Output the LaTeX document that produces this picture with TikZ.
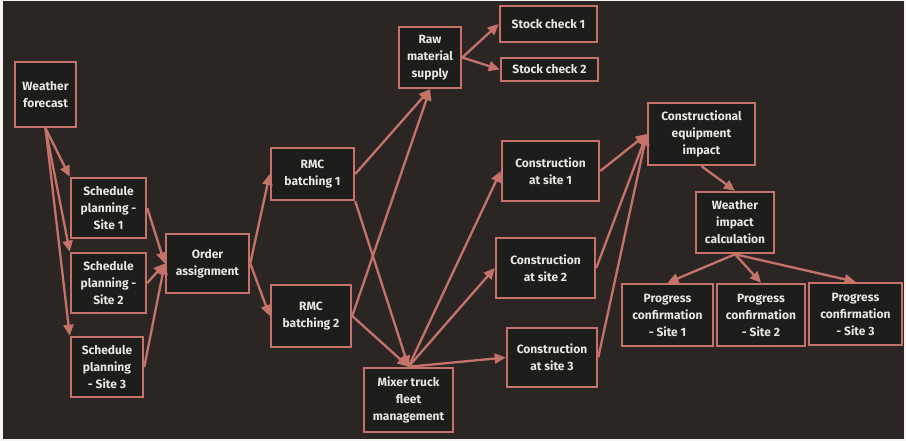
\documentclass[tikz,border=0pt]{standalone}
\usepackage{fontspec}
\setmainfont{Fira Sans}
\usetikzlibrary{arrows.meta}

\definecolor{pagedark}{RGB}{43,38,36}
\definecolor{boxdark}{RGB}{29,29,28}
\definecolor{salmon}{RGB}{197,114,106}
\definecolor{boxtext}{RGB}{232,230,224}

\tikzset{
	box/.style={draw=salmon, fill=boxdark, line width=2.5pt, text=boxtext,
		font=\bfseries\fontsize{12}{17}\selectfont, align=center, inner sep=1pt},
	flow/.style={draw=salmon, line width=2.3pt, -{Triangle[length=11pt,width=10pt]}}
}

\begin{document}
\begin{tikzpicture}[x=1pt,y=-1pt]
	\useasboundingbox (0,0) rectangle (906,441);
	\fill[white!92!gray] (0,0) rectangle (906,441);
	\fill[pagedark] (3,1) rectangle (904,439);
	% left part
	\node[box, minimum width=61, minimum height=65] (wf) at (45.5,94.5) {Weather\\forecast};
	\node[box, minimum width=75, minimum height=60] (sp1) at (108.5,208) {Schedule\\planning -\\Site 1};
	\node[box, minimum width=75, minimum height=60] (sp2) at (108.5,283) {Schedule\\planning -\\Site 2};
	\node[box, minimum width=72, minimum height=60] (sp3) at (107,367) {Schedule\\planning\\- Site 3};
	\node[box, minimum width=83, minimum height=59] (oa) at (207.5,263.5) {Order\\assignment};
	% batching and supply
	\node[box, minimum width=83, minimum height=52] (rmc1) at (312.5,174) {RMC\\batching 1};
	\node[box, minimum width=80, minimum height=62] (rmc2) at (311,316) {RMC\\batching 2};
	\node[box, minimum width=62, minimum height=61] (raw) at (430,57.5) {Raw\\material\\supply};
	\node[box, minimum width=97, minimum height=36] (sc1) at (548.5,24) {Stock check 1};
	\node[box, minimum width=97, minimum height=23] (sc2) at (549.5,69.5) {Stock check 2};
	\node[box, minimum width=89, minimum height=64] (mtf) at (408.5,400) {Mixer truck\\fleet\\management};
	% construction sites
	\node[box, minimum width=97, minimum height=60] (cs1) at (550.5,171) {Construction\\at site 1};
	\node[box, minimum width=99, minimum height=60] (cs2) at (545.5,268) {Construction\\at site 2};
	\node[box, minimum width=90, minimum height=59] (cs3) at (552,357.5) {Construction\\at site 3};
	% impact and progress
	\node[box, minimum width=107, minimum height=62] (cei) at (701.5,134) {Constructional\\equipment\\impact};
	\node[box, minimum width=78, minimum height=61] (wic) at (735,222.5) {Weather\\impact\\calculation};
	\node[box, minimum width=91, minimum height=62] (pc1) at (667.5,315) {Progress\\confirmation\\- Site 1};
	\node[box, minimum width=88, minimum height=62] (pc2) at (761,315) {Progress\\confirmation\\- Site 2};
	\node[box, minimum width=93, minimum height=62] (pc3) at (855.5,314) {Progress\\confirmation\\- Site 3};

	\draw[flow] (wf.south) -- (sp1.north west);
	\draw[flow] (wf.south) -- (sp2.north west);
	\draw[flow] (wf.south) -- (sp3.north west);
	\draw[flow] (sp1.east) -- (oa.west);
	\draw[flow] (sp2.east) -- (oa.west);
	\draw[flow] (sp3.east) -- (oa.west);
	\draw[flow] (oa.east) -- (rmc1.west);
	\draw[flow] (oa.east) -- (rmc2.west);
	\draw[flow] (rmc1.east) -- (raw.south);
	\draw[flow] (rmc2.east) -- (raw.south);
	\draw[flow] (rmc1.south east) -- (mtf.north);
	\draw[flow] (rmc2.east) -- (mtf.north);
	\draw[flow] (raw.east) -- (sc1.west);
	\draw[flow] (raw.east) -- (sc2.west);
	\draw[flow] (mtf.north) -- (cs1.west);
	\draw[flow] (mtf.north) -- (cs2.west);
	\draw[flow] (mtf.north) -- (cs3.west);
	\draw[flow] (cs1.east) -- (cei.west);
	\draw[flow] (cs2.east) -- (cei.west);
	\draw[flow] (cs3.east) -- (cei.west);
	\draw[flow] (cei.south) -- (wic.north);
	\draw[flow] (wic.south) -- (pc1.north);
	\draw[flow] (wic.south) -- (pc2.north);
	\draw[flow] (wic.south) -- (pc3.north);
\end{tikzpicture}
\end{document}
